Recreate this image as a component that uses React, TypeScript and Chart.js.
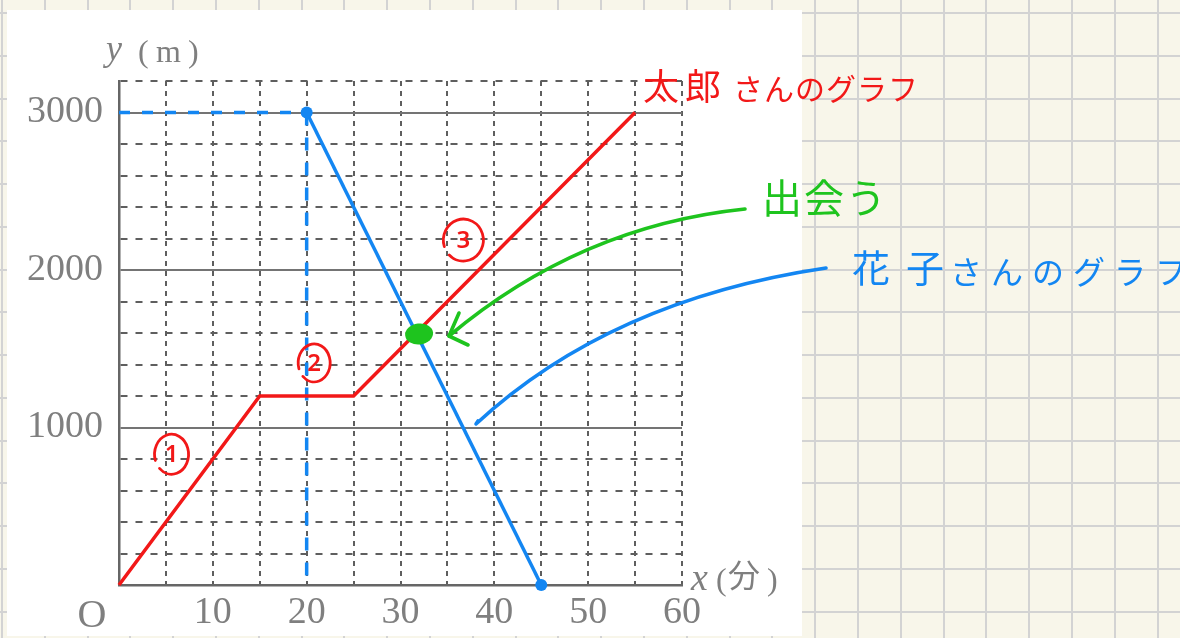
import { useEffect, useRef } from 'react';
import { Chart, registerables } from 'chart.js';

Chart.register(...registerables);

// Taro's walk: minutes since leaving home vs. distance (m)
const taroMinutes = [0, 15, 25, 55];
const taroMeters = [0, 1200, 1200, 3000];

// Hanako sets off from 3000 m at minute 20 and walks back to 0 m
const hanakoMinutes = [20, 45];
const hanakoMeters = [3000, 0];

// Dashed guide lines for Hanako's starting point
const guideAcrossMinutes = [0, 20];
const guideAcrossMeters = [3000, 3000];
const guideDownMinutes = [20, 20];
const guideDownMeters = [3000, 0];

// Axis labelling
const xTickLabels = [10, 20, 30, 40, 50, 60];
const yTickLabels = [1000, 2000, 3000];
const solidMeterLines = [0, 1000, 2000, 3000];

// Section markers on Taro's graph
const stageLabels = ['1', '2', '3'];

// Where the circled section markers sit (data units)
const stageMarkerPlacement = [
  { x: 5.6, y: 830, rx: 17, ry: 20 },
  { x: 20.8, y: 1410, rx: 16, ry: 19 },
  { x: 36.7, y: 2190, rx: 20, ry: 21 },
];

const RED = '#f21818';
const BLUE = '#1386f2';
const GREEN = '#1ec41e';
const INK = '#7f7f7f';

const toPoints = (xs: number[], ys: number[]) => xs.map((x, i) => ({ x, y: ys[i] }));

// Where Taro's last stretch crosses Hanako's line
function meetingPoint() {
  const n = taroMinutes.length;
  const [x1, y1, x2, y2] = [taroMinutes[n - 2], taroMeters[n - 2], taroMinutes[n - 1], taroMeters[n - 1]];
  const [x3, y3, x4, y4] = [hanakoMinutes[0], hanakoMeters[0], hanakoMinutes[1], hanakoMeters[1]];
  const d = (x1 - x2) * (y3 - y4) - (y1 - y2) * (x3 - x4);
  const t = ((x1 - x3) * (y3 - y4) - (y1 - y3) * (x3 - x4)) / d;
  return { x: x1 + t * (x2 - x1), y: y1 + t * (y2 - y1) };
}

const paperPlugin = {
  id: 'paper',
  beforeDraw(chart: any) {
    const { ctx, width, height } = chart;
    ctx.save();
    ctx.fillStyle = '#f8f6ea';
    ctx.fillRect(0, 0, width, height);
    ctx.strokeStyle = '#d3d3d3';
    ctx.lineWidth = 2;
    ctx.beginPath();
    for (let x = 2; x < width; x += 42.8) {
      ctx.moveTo(Math.round(x), 0);
      ctx.lineTo(Math.round(x), height);
    }
    for (let y = 13; y < height; y += 42.75) {
      ctx.moveTo(0, Math.round(y));
      ctx.lineTo(width, Math.round(y));
    }
    ctx.stroke();
    ctx.fillStyle = '#ffffff';
    ctx.fillRect(7, 10, 795, 626);
    ctx.restore();
  },
};

function label(ctx: any, text: string, x: number, y: number, font: string, color: string, spacing = 0, baseline = 'middle') {
  ctx.font = font;
  ctx.fillStyle = color;
  ctx.textAlign = 'left';
  ctx.textBaseline = baseline;
  (ctx as any).letterSpacing = spacing + 'px';
  ctx.fillText(text, x, y);
  (ctx as any).letterSpacing = '0px';
}

const notesPlugin = {
  id: 'notes',
  afterDatasetsDraw(chart: any) {
    const { ctx } = chart;
    const xs = chart.scales.x;
    const ys = chart.scales.y;
    ctx.save();
    ctx.lineCap = 'round';
    ctx.lineJoin = 'round';

    // circled section numbers
    stageLabels.forEach((s, i) => {
      const p = stageMarkerPlacement[i];
      const cx = xs.getPixelForValue(p.x);
      const cy = ys.getPixelForValue(p.y);
      ctx.strokeStyle = RED;
      ctx.lineWidth = 2.8;
      ctx.beginPath();
      ctx.ellipse(cx, cy, p.rx, p.ry, 0, 0.9 * Math.PI, 2.75 * Math.PI);
      ctx.stroke();
      ctx.font = '600 24px "Noto Sans"';
      ctx.fillStyle = RED;
      ctx.textAlign = 'center';
      ctx.textBaseline = 'middle';
      ctx.fillText(s, cx, cy + 1);
    });

    // meeting point
    const m = meetingPoint();
    ctx.fillStyle = GREEN;
    ctx.beginPath();
    ctx.ellipse(xs.getPixelForValue(m.x) + 3, ys.getPixelForValue(m.y) + 1, 14, 10.5, -0.12, 0, Math.PI * 2);
    ctx.fill();

    // green arrow pointing at the meeting point
    ctx.strokeStyle = GREEN;
    ctx.lineWidth = 3.6;
    ctx.beginPath();
    ctx.moveTo(745, 209);
    ctx.quadraticCurveTo(580, 226, 449, 336);
    ctx.stroke();
    ctx.beginPath();
    ctx.moveTo(459, 313);
    ctx.lineTo(449, 336);
    ctx.lineTo(468, 345);
    ctx.stroke();

    // blue pointer towards Hanako's line
    ctx.strokeStyle = BLUE;
    ctx.beginPath();
    ctx.moveTo(478, 421);
    ctx.lineTo(476, 424);
    ctx.quadraticCurveTo(610, 300, 826, 268);
    ctx.stroke();

    // handwritten captions
    label(ctx, '太郎', 643, 86, '36px "Noto Sans CJK JP"', RED, 6);
    label(ctx, 'さんのグラフ', 733, 89, '30px "Noto Sans CJK JP"', RED, 1);
    label(ctx, '出会う', 762, 198, '40px "Noto Sans CJK JP"', GREEN, 2);
    label(ctx, '花子', 852, 268, '38px "Noto Sans CJK JP"', BLUE, 16);
    label(ctx, 'さんのグラフ', 950, 272, '32px "Noto Sans CJK JP"', BLUE, 9);

    // axis titles and origin
    label(ctx, 'y', 106, 60, 'italic 36px "Liberation Serif"', INK, 0, 'alphabetic');
    label(ctx, '(', 138, 62, '32px "Liberation Serif"', INK, 0, 'alphabetic');
    label(ctx, 'm', 156, 62, '32px "Liberation Serif"', INK, 0, 'alphabetic');
    label(ctx, ')', 188, 62, '32px "Liberation Serif"', INK, 0, 'alphabetic');
    label(ctx, 'x', 691, 590, 'italic 38px "Liberation Serif"', INK, 0, 'alphabetic');
    label(ctx, '(', 716, 590, '32px "Liberation Serif"', INK, 0, 'alphabetic');
    label(ctx, '分', 728, 587, '32px "Noto Sans CJK JP"', INK, 0, 'alphabetic');
    label(ctx, ')', 767, 590, '32px "Liberation Serif"', INK, 0, 'alphabetic');
    ctx.font = '40px "Liberation Serif"';
    ctx.fillStyle = INK;
    ctx.textAlign = 'center';
    ctx.textBaseline = 'alphabetic';
    ctx.fillText('O', 92, 627);

    ctx.restore();
  },
};

export default function App() {
  const canvasRef = useRef<HTMLCanvasElement | null>(null);

  useEffect(() => {
    if (!canvasRef.current) return;
    const tickFont = { family: '"Liberation Serif", serif', size: 38 };
    const chart = new Chart(canvasRef.current, {
      type: 'scatter',
      data: {
        datasets: [
          {
            data: toPoints(taroMinutes, taroMeters),
            showLine: true,
            borderColor: RED,
            borderWidth: 3.5,
            pointRadius: 0,
            clip: false,
          },
          {
            data: toPoints(hanakoMinutes, hanakoMeters),
            showLine: true,
            borderColor: BLUE,
            backgroundColor: BLUE,
            borderWidth: 3.5,
            pointRadius: 6,
            pointBorderWidth: 0,
            clip: false,
          },
          {
            data: toPoints(guideAcrossMinutes, guideAcrossMeters),
            showLine: true,
            borderColor: BLUE,
            borderWidth: 3.5,
            borderDash: [11, 12],
            pointRadius: 0,
            clip: false,
          },
          {
            data: toPoints(guideDownMinutes, guideDownMeters),
            showLine: true,
            borderColor: BLUE,
            borderWidth: 3.5,
            borderDash: [13, 12],
            pointRadius: 0,
            clip: false,
          },
        ],
      },
      options: {
        responsive: false,
        animation: false,
        events: [],
        layout: { padding: { left: 0, top: 81, right: 498, bottom: 0 } },
        plugins: { legend: { display: false }, tooltip: { enabled: false } },
        scales: {
          x: {
            type: 'linear',
            min: 0,
            max: 60,
            ticks: {
              stepSize: 5,
              autoSkip: false,
              maxRotation: 0,
              padding: 5,
              color: INK,
              font: tickFont,
              callback: (v: any) => (xTickLabels.includes(Number(v)) ? String(v) : ''),
            },
            grid: { color: '#5e5e5e', lineWidth: 2, drawTicks: false },
            border: {
              display: true,
              color: '#666666',
              width: 2.5,
              dash: (c: any) => (c.tick && c.tick.value === 0 ? [] : [5, 5]),
            },
            afterFit: (s: any) => {
              s.height = 53;
            },
          },
          y: {
            type: 'linear',
            min: 0,
            max: 3200,
            ticks: {
              stepSize: 200,
              autoSkip: false,
              padding: 16,
              color: INK,
              font: tickFont,
              callback: (v: any) => (yTickLabels.includes(Number(v)) ? String(v) : ''),
            },
            grid: {
              color: (c: any) => (c.tick && solidMeterLines.includes(c.tick.value) ? '#747474' : '#5e5e5e'),
              lineWidth: 2,
              drawTicks: false,
            },
            border: {
              display: true,
              color: '#666666',
              width: 2.5,
              dash: (c: any) => (c.tick && solidMeterLines.includes(c.tick.value) ? [] : [7, 8]),
            },
            afterFit: (s: any) => {
              s.width = 119;
            },
          },
        },
      },
      plugins: [paperPlugin, notesPlugin],
    } as any);
    return () => chart.destroy();
  }, []);

  return (
    <div style={{ position: 'fixed', left: 0, top: 0, width: 1180, height: 638 }}>
      <canvas ref={canvasRef} width={1180} height={638} />
    </div>
  );
}
